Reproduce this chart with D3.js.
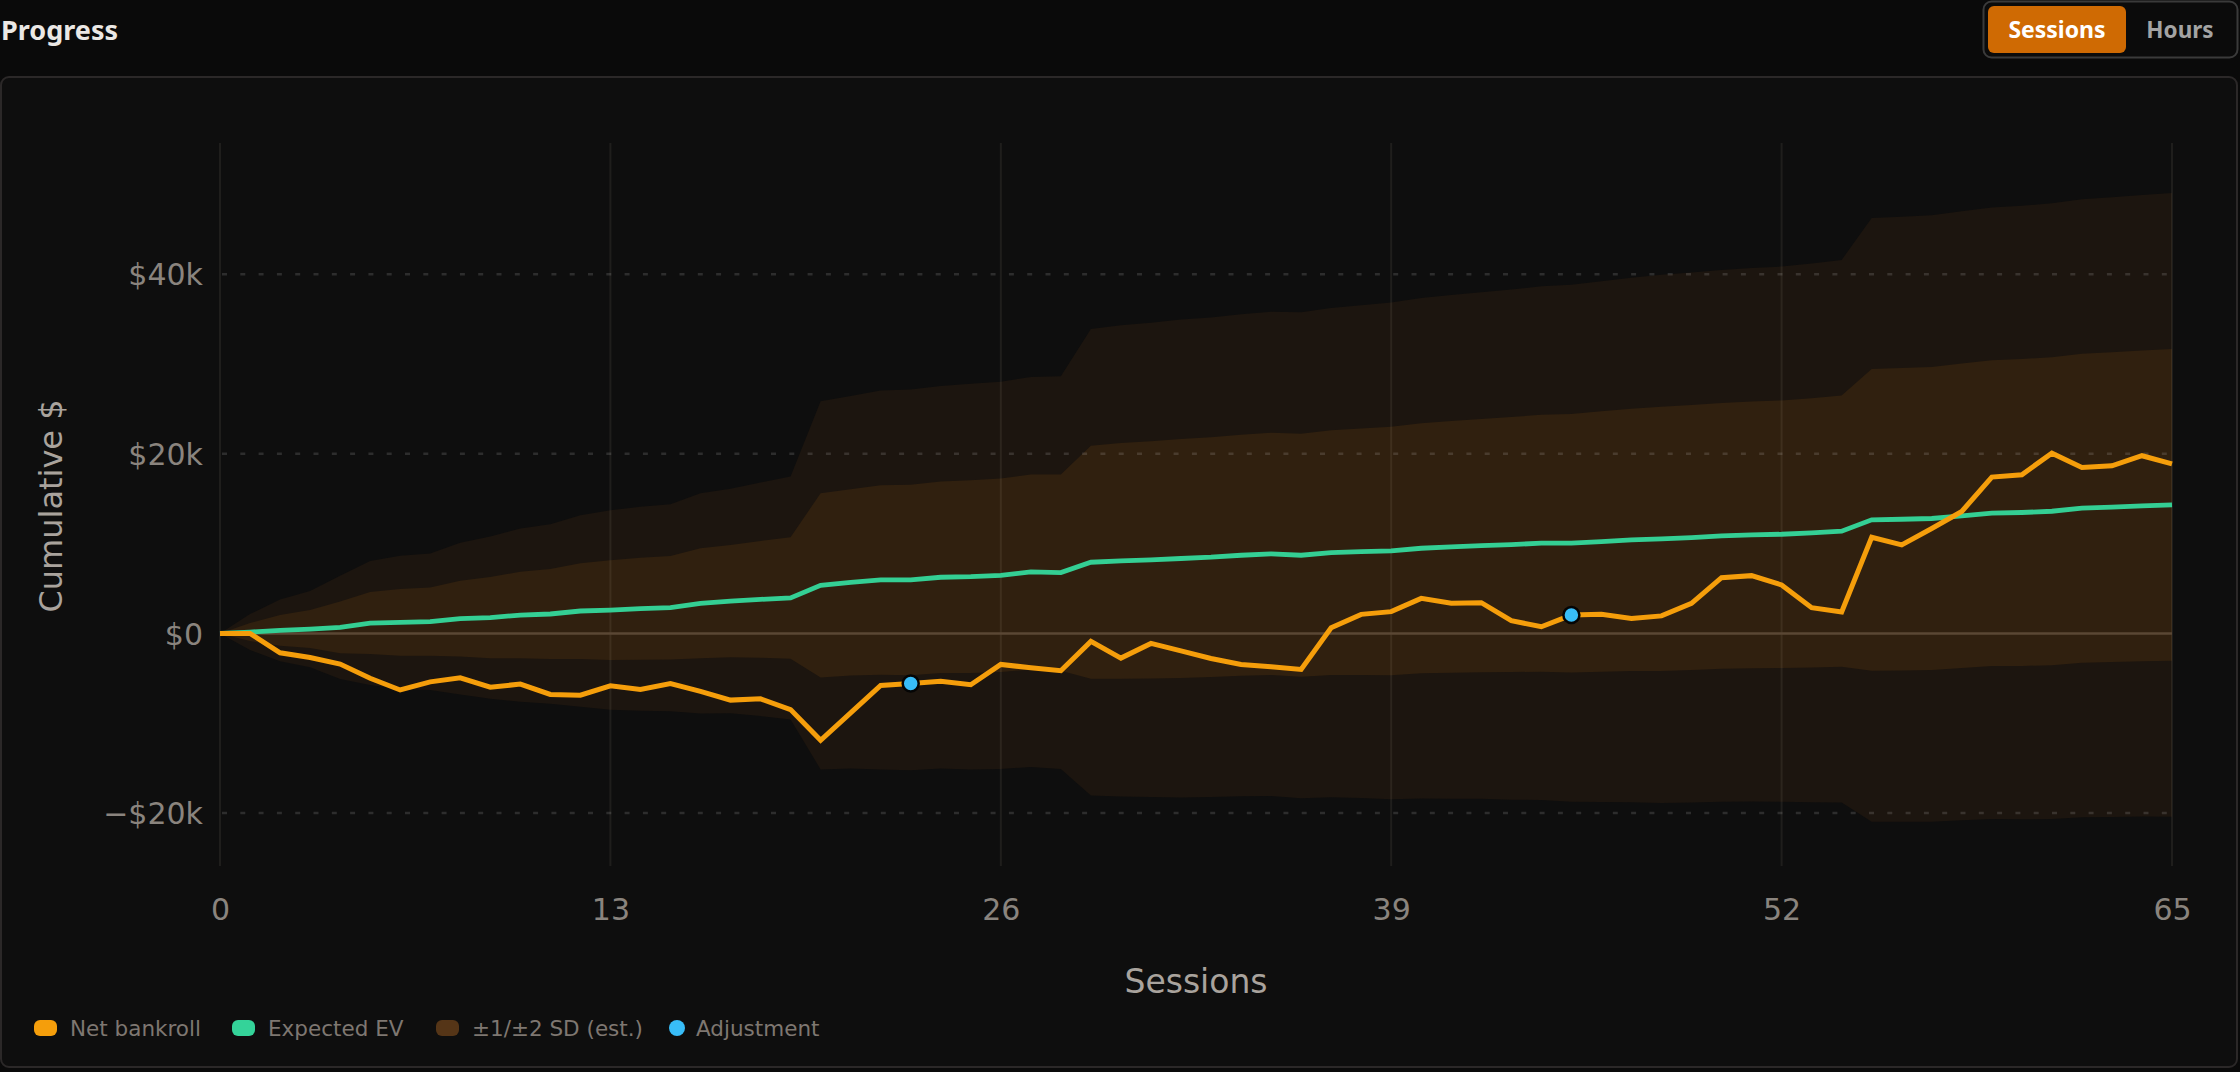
<!DOCTYPE html>
<html>
<head>
<meta charset="utf-8">
<script src="https://cdn.jsdelivr.net/npm/d3@7"></script>
<style>
  html, body { margin: 0; padding: 0; background: #0a0a0a; }
  svg { display: block; }
</style>
</head>
<body>
<svg id="chart" width="2240" height="1072"></svg>
<script>
// ---- data (values in $k) ----
const sessions = d3.range(0, 66);
const netBankroll = [0, 0, -2.16, -2.68, -3.42, -5.0, -6.3, -5.4, -4.94, -5.99, -5.65, -6.8, -6.88, -5.84, -6.25, -5.58,
  -6.45, -7.43, -7.29, -8.48, -11.9, -8.85, -5.8, -5.58, -5.32, -5.72, -3.46, -3.83, -4.16, -0.89, -2.75, -1.12,
  -1.95, -2.79, -3.46, -3.72, -4.01, 0.63, 2.12, 2.42, 3.9, 3.35, 3.42, 1.41, 0.74, 2.04, 2.12, 1.67,
  1.95, 3.35, 6.2, 6.43, 5.39, 2.86, 2.38, 10.7, 9.85, 11.67, 13.57, 17.4, 17.66, 20.07, 18.48, 18.66, 19.78, 18.88];
const expectedEV = [0, 0.15, 0.33, 0.48, 0.67, 1.15, 1.23, 1.3, 1.64, 1.75, 2.04, 2.16, 2.49, 2.6, 2.75, 2.86,
  3.35, 3.6, 3.79, 3.94, 5.35, 5.69, 5.95, 5.95, 6.25, 6.32, 6.47, 6.84, 6.77, 7.92, 8.07, 8.18,
  8.34, 8.48, 8.7, 8.85, 8.7, 9.0, 9.1, 9.18, 9.48, 9.63, 9.78, 9.89, 10.04, 10.04, 10.22, 10.4,
  10.52, 10.67, 10.86, 10.97, 11.04, 11.19, 11.38, 12.64, 12.71, 12.79, 13.09, 13.38, 13.46, 13.6, 13.94, 14.05, 14.2, 14.31];
const stdDev = [0, 1.0, 1.72, 2.12, 2.87, 3.45, 3.71, 3.8, 4.22, 4.52, 4.82, 5.0, 5.33, 5.55, 5.68, 5.76,
  6.13, 6.25, 6.5, 6.76, 10.25, 10.37, 10.55, 10.6, 10.65, 10.74, 10.78, 10.86, 10.93, 12.98, 13.12, 13.2,
  13.3, 13.35, 13.42, 13.48, 13.53, 13.62, 13.72, 13.83, 13.93, 14.02, 14.1, 14.2, 14.3, 14.39, 14.5, 14.6,
  14.7, 14.75, 14.8, 14.85, 14.9, 15.0, 15.1, 16.8, 16.84, 16.88, 16.95, 17.02, 17.08, 17.14, 17.2, 17.25, 17.3, 17.36];
const adjustmentSessions = [23, 45];
const xTicks = [0, 13, 26, 39, 52, 65];
const yTicks = [-20, 0, 20, 40];
const yTickLabels = ["\u2212$20k", "$0", "$20k", "$40k"];
const legendItems = ["Net bankroll", "Expected EV", "\u00b11/\u00b12 SD (est.)", "Adjustment"];
const toggleLabels = ["Sessions", "Hours"];

// ---- build ----
const svg = d3.select("#chart");
const rows = sessions.map((s, i) => ({ s, net: netBankroll[i], ev: expectedEV[i], sd: stdDev[i] }));

const x = d3.scaleLinear().domain([0, 65]).range([220, 2172]);
const y = d3.scaleLinear().domain([-25.9, 54.6]).range([866, 143]);

// Title
svg.append("text").attr("x", 1).attr("y", 40)
  .attr("font-family", "'Noto Sans', sans-serif").attr("font-weight", 700).attr("font-size", 27)
  .attr("fill", "#ebe8e5").text("Progress");

// Toggle
const tg = svg.append("g");
tg.append("rect").attr("x", 1983.5).attr("y", 1.5).attr("width", 254).attr("height", 56).attr("rx", 8)
  .attr("fill", "#0b0b0b").attr("stroke", "#3a3a3a").attr("stroke-width", 2);
tg.append("rect").attr("x", 1988).attr("y", 6).attr("width", 138).attr("height", 47).attr("rx", 6).attr("fill", "#cf6a03");
tg.append("text").attr("x", 2057).attr("y", 37.5).attr("text-anchor", "middle")
  .attr("font-family", "'Noto Sans', sans-serif").attr("font-weight", 700).attr("font-size", 23)
  .attr("fill", "#ffffff").text(toggleLabels[0]);
tg.append("text").attr("x", 2180).attr("y", 37.5).attr("text-anchor", "middle")
  .attr("font-family", "'Noto Sans', sans-serif").attr("font-weight", 700).attr("font-size", 22.5)
  .attr("fill", "#a3a3a3").text(toggleLabels[1]);

// Panel
svg.append("rect").attr("x", 1).attr("y", 77).attr("width", 2236).attr("height", 990).attr("rx", 8)
  .attr("fill", "#0e0e0e").attr("stroke", "#2b2828").attr("stroke-width", 2);

// Bands
const area2 = d3.area().x(d => x(d.s)).y0(d => y(d.ev - 2 * d.sd)).y1(d => y(d.ev + 2 * d.sd));
const area1 = d3.area().x(d => x(d.s)).y0(d => y(d.ev - d.sd)).y1(d => y(d.ev + d.sd));
svg.append("path").datum(rows).attr("d", area2).attr("fill", "#1c150f");
svg.append("path").datum(rows).attr("d", area1).attr("fill", "#30200f");

// Vertical grid (x ticks)
const xAxis = d3.axisBottom(x).tickValues(xTicks).tickSize(0).tickPadding(0).tickFormat(d3.format("d"));
const gx = svg.append("g").attr("transform", "translate(0,920)").call(xAxis);
gx.select(".domain").remove();
gx.selectAll("text").attr("dy", 0).attr("y", 0)
  .attr("font-family", "'DejaVu Sans', sans-serif").attr("font-size", 30).attr("fill", "#8a847e");
svg.append("g").selectAll("line").data(xTicks).join("line")
  .attr("x1", d => x(d)).attr("x2", d => x(d)).attr("y1", 143).attr("y2", 866)
  .attr("stroke", "rgba(255,235,210,0.075)").attr("stroke-width", 2);

// Horizontal dashed grid + y tick labels
const yAxis = d3.axisLeft(y).tickValues(yTicks).tickSize(0).tickPadding(0)
  .tickFormat((d, i) => yTickLabels[i]);
const gy = svg.append("g").attr("transform", "translate(203,0)").call(yAxis);
gy.select(".domain").remove();
gy.selectAll("text").attr("x", 0).attr("dy", "0.36em")
  .attr("font-family", "'DejaVu Sans', sans-serif").attr("font-size", 30).attr("fill", "#8a847e");
svg.append("g").selectAll("line").data(yTicks.filter(d => d !== 0)).join("line")
  .attr("x1", 222).attr("x2", 2172).attr("y1", d => y(d)).attr("y2", d => y(d))
  .attr("stroke", "rgba(255,255,255,0.13)").attr("stroke-width", 2.5).attr("stroke-dasharray", "5 13.3");
// zero line
svg.append("line").attr("x1", x(0)).attr("x2", x(65)).attr("y1", y(0)).attr("y2", y(0))
  .attr("stroke", "#5a4734").attr("stroke-width", 2.5);

// Lines
const evLine = d3.line().x(d => x(d.s)).y(d => y(d.ev));
const netLine = d3.line().x(d => x(d.s)).y(d => y(d.net));
svg.append("path").datum(rows).attr("d", evLine).attr("fill", "none")
  .attr("stroke", "#34cf94").attr("stroke-width", 4.8).attr("stroke-linejoin", "miter");
svg.append("path").datum(rows).attr("d", netLine).attr("fill", "none")
  .attr("stroke", "#f59e0b").attr("stroke-width", 5).attr("stroke-linejoin", "miter");

// Adjustment points
svg.append("g").selectAll("circle").data(adjustmentSessions).join("circle")
  .attr("cx", d => x(d)).attr("cy", d => y(netBankroll[d])).attr("r", 8)
  .attr("fill", "#38bdf8").attr("stroke", "#050505").attr("stroke-width", 2.5);

// Axis titles
svg.append("text").attr("x", 1196).attr("y", 993).attr("text-anchor", "middle")
  .attr("font-family", "'DejaVu Sans', sans-serif").attr("font-size", 33).attr("fill", "#a9a39d").text("Sessions");
svg.append("text").attr("transform", "translate(62,506) rotate(-90)").attr("text-anchor", "middle")
  .attr("font-family", "'DejaVu Sans', sans-serif").attr("font-size", 32).attr("fill", "#a9a39d").text("Cumulative $");

// Legend
const legendColors = ["#f59e0b", "#34d399", "#553517", "#38bdf8"];
const legendX = [34, 232, 436, 669];
const lg = svg.append("g");
legendItems.forEach((t, i) => {
  if (i < 3) {
    lg.append("rect").attr("x", legendX[i]).attr("y", 1020).attr("width", 23).attr("height", 16).attr("rx", 6)
      .attr("fill", legendColors[i]);
  } else {
    lg.append("circle").attr("cx", legendX[i] + 8).attr("cy", 1028).attr("r", 8).attr("fill", legendColors[i]);
  }
  lg.append("text").attr("x", legendX[i] + (i < 3 ? 36 : 27)).attr("y", 1035.5)
    .attr("font-family", "'DejaVu Sans', sans-serif").attr("font-size", 21.5).attr("fill", "#7e7771").text(t);
});
</script>
</body>
</html>
